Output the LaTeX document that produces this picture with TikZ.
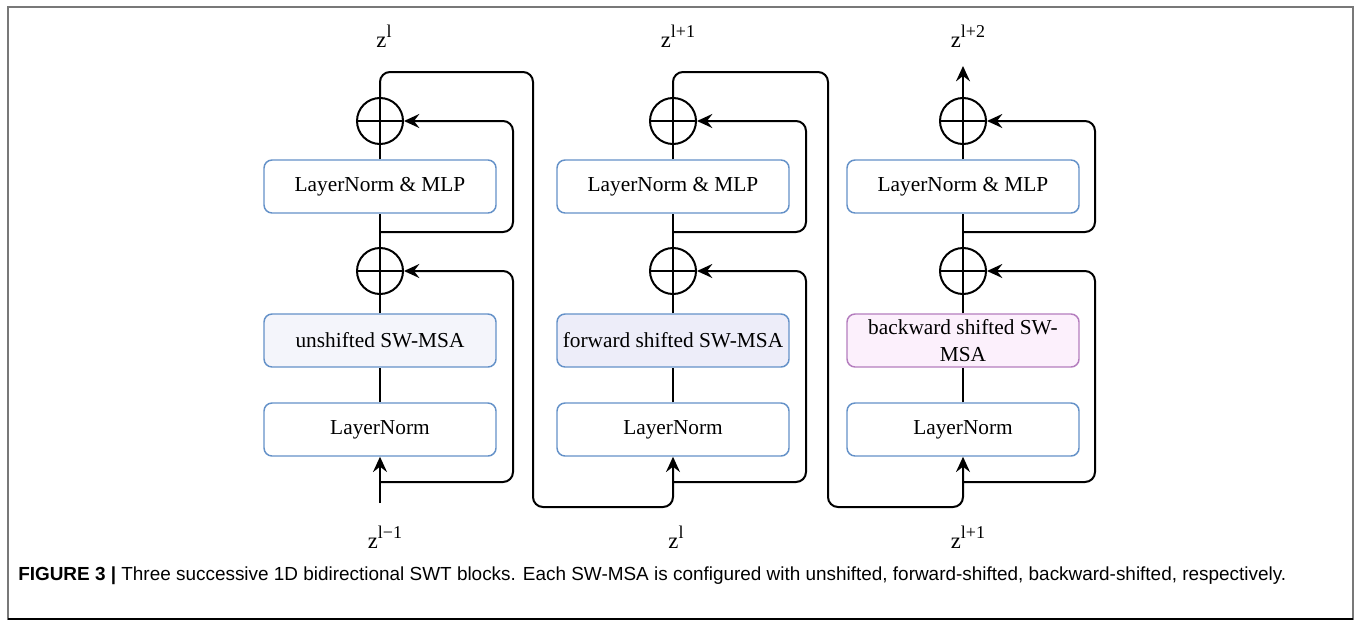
\documentclass[tikz,border=0pt]{standalone}
\usepackage{fontspec}
\setmainfont{Liberation Serif}
\newfontfamily\capfont{Liberation Sans}
\usetikzlibrary{arrows.meta}
\definecolor{boxblue}{RGB}{100,145,200}
\definecolor{fillA}{RGB}{244,245,251}
\definecolor{fillB}{RGB}{237,237,249}
\definecolor{fillC}{RGB}{252,240,252}
\definecolor{drawC}{RGB}{180,125,190}
\definecolor{framegray}{RGB}{120,120,120}
\newcommand{\supz}[1]{z\raisebox{0.42em}{\fontsize{13.5}{14}\selectfont #1}}
\begin{document}
\begin{tikzpicture}[x=0.75pt,y=-0.75pt,
  conn/.style={line width=1.5pt, rounded corners=7.5pt},
  arr/.style={conn, -{Stealth[length=11.5pt,width=10.5pt,inset=4pt]}},
  blockbox/.style={draw=boxblue, fill=white, line width=1.1pt, rounded corners=6pt,
    minimum width=174pt, minimum height=39.75pt, inner sep=0pt,
    font=\fontsize{16}{20}\selectfont, align=center},
  plus/.style={circle, draw, line width=1.5pt, minimum size=34.5pt, inner sep=0pt,
    path picture={\draw[line width=1.5pt] (path picture bounding box.north) -- (path picture bounding box.south)
      (path picture bounding box.west) -- (path picture bounding box.east);}},
  zlab/.style={anchor=base, font=\fontsize{17}{18}\selectfont, inner sep=0pt},
]
\useasboundingbox (0,0) rectangle (1356,621);
% frame
\draw[framegray, line width=1.2pt] (8,620) -- (8,7) -- (1353,7) -- (1353,620);
\draw[black, line width=1.5pt] (8,619) -- (1353,619);

% ---------- block 1 ----------
\node[plus] (p1t) at (380,121) {};
\node[blockbox] (mlp1) at (380,186.5) {LayerNorm \& MLP};
\node[plus] (p1b) at (380,271) {};
\node[blockbox, fill=fillA] (sw1) at (380,340.5) {unshifted SW-MSA};
\node[blockbox] (ln1) at (380,429.5) {LayerNorm};
\coordinate (in1) at (380,503);
\coordinate (k1b) at (513,482);
\coordinate (k1t) at (513,232);
\coordinate (c1a) at (533,72);
\coordinate (c1b) at (533,507);
\node[zlab] (zt1) at (384,47) {\supz{l}};
\node[zlab] (zb1) at (385,548) {\supz{l−1}};

% ---------- block 2 ----------
\node[plus] (p2t) at (673,121) {};
\node[blockbox] (mlp2) at (673,186.5) {LayerNorm \& MLP};
\node[plus] (p2b) at (673,271) {};
\node[blockbox, fill=fillB] (sw2) at (673,340.5) {forward shifted SW-MSA};
\node[blockbox] (ln2) at (673,429.5) {LayerNorm};
\coordinate (k2b) at (806,482);
\coordinate (k2t) at (806,232);
\coordinate (c2a) at (828,72);
\coordinate (c2b) at (828,507);
\node[zlab] (zt2) at (678,47) {\supz{l+1}};
\node[zlab] (zb2) at (676,548) {\supz{l}};

% ---------- block 3 ----------
\node[plus] (p3t) at (963,121) {};
\node[blockbox] (mlp3) at (963,186.5) {LayerNorm \& MLP};
\node[plus] (p3b) at (963,271) {};
\node[blockbox, fill=fillC, draw=drawC] (sw3) at (963,340.5) {backward shifted SW-\\MSA};
\node[blockbox] (ln3) at (963,429.5) {LayerNorm};
\coordinate (k3b) at (1095,482);
\coordinate (k3t) at (1095,232);
\coordinate (out3) at (963,66);
\node[zlab] (zt3) at (968,47) {\supz{l+2}};
\node[zlab] (zb3) at (968,548) {\supz{l+1}};

% ---------- connectors ----------
\foreach \i in {1,2,3}{
  \draw[conn] (ln\i.north) -- (sw\i.south);
  \draw[conn] (sw\i.north) -- (p\i b.south);
  \draw[conn] (p\i b.north) -- (mlp\i.south);
  \draw[conn] (mlp\i.north) -- (p\i t.south);
  \draw[arr] (ln\i.south |- k\i b) -- (k\i b) |- (p\i b.east);
  \draw[arr] (mlp\i.south |- k\i t) -- (k\i t) |- (p\i t.east);
}
\draw[arr] (in1) -- (ln1.south);
\draw[arr] (p1t.north) |- (c1a) -- (c1b) -| (ln2.south);
\draw[arr] (p2t.north) |- (c2a) -- (c2b) -| (ln3.south);
\draw[arr] (p3t.north) -- (out3);

% caption
\node[anchor=base west, inner sep=0pt, font=\capfont\fontsize{14.2}{16}\selectfont] (cap) at (18,580)
  {\textbf{FIGURE 3 |} Three successive 1D bidirectional SWT blocks. Each SW-MSA is configured with unshifted, forward-shifted, backward-shifted, respectively.};
\end{tikzpicture}
\end{document}
